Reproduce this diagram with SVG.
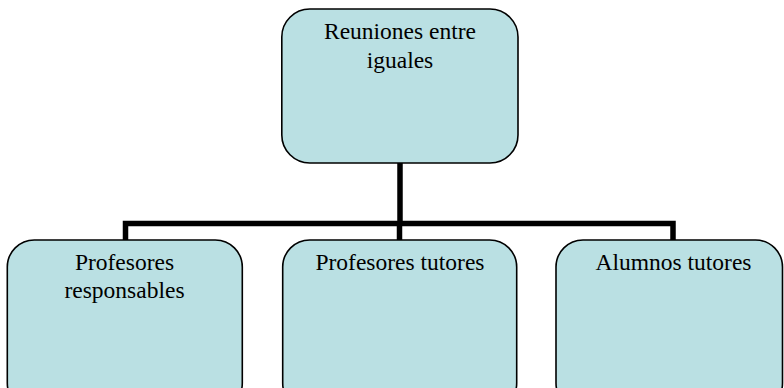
<svg xmlns="http://www.w3.org/2000/svg" width="784" height="388" viewBox="0 0 784 388">
<style>
.box{fill:#BAE0E3;stroke:#000;stroke-width:1.6}
.lbl{font-size:23.5px;fill:#000;text-anchor:middle}
.conn{fill:none;stroke:#000;stroke-width:5.5;stroke-linejoin:miter;stroke-linecap:butt}
</style>
<rect width="784" height="388" fill="#fff"/>
<g id="connectors">
<path class="conn" d="M400,163 V223.5"/>
<path class="conn" d="M125.5,240 V223.5 H673 V240"/>
<path class="conn" d="M399.5,223.5 V240"/>
</g>
<g font-family="'Liberation Serif', 'DejaVu Serif', 'Noto Serif', serif">
<g id="n-root">
<rect class="box" x="281.8" y="9" width="236.2" height="154" rx="28" ry="28"/>
<text class="lbl" x="400" y="39">Reuniones entre</text>
<text class="lbl" x="400" y="67.5">iguales</text>
</g>
<g id="n-responsables">
<rect class="box" x="7.3" y="240" width="235" height="170" rx="27" ry="27"/>
<text class="lbl" x="124.5" y="270">Profesores</text>
<text class="lbl" x="124.5" y="298">responsables</text>
</g>
<g id="n-tutores">
<rect class="box" x="282.7" y="240" width="234" height="170" rx="27" ry="27"/>
<text class="lbl" x="400" y="270">Profesores tutores</text>
</g>
<g id="n-alumnos">
<rect class="box" x="556" y="240" width="226.5" height="170" rx="27" ry="27"/>
<text class="lbl" x="673.5" y="270">Alumnos tutores</text>
</g>
</g>
</svg>
